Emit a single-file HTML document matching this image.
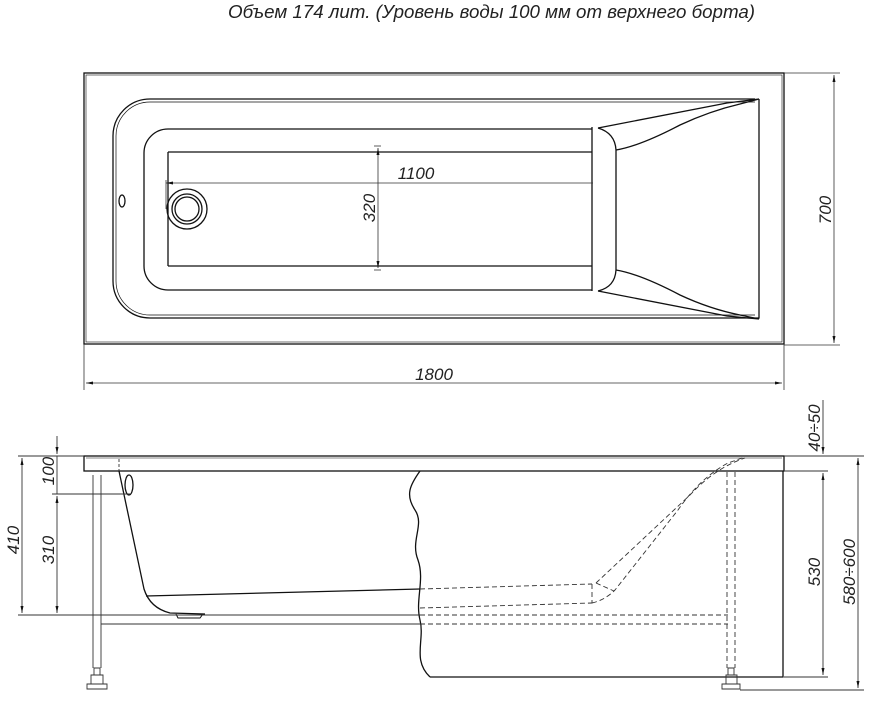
<!DOCTYPE html>
<html><head><meta charset="utf-8"><style>
html,body{margin:0;padding:0;background:#fff;width:869px;height:702px;overflow:hidden}
svg{display:block}
text{font-family:"Liberation Sans",sans-serif;font-style:italic;fill:#222}
</style></head><body>
<svg width="869" height="702" viewBox="0 0 869 702" xmlns="http://www.w3.org/2000/svg">
<defs>
<marker id="a" markerWidth="8" markerHeight="8" refX="7" refY="3" orient="auto" markerUnits="userSpaceOnUse"><path d="M0,1.5 L7,3 L0,4.5 Z" fill="#111"/></marker>
</defs>
<text x="228" y="18" font-size="18" textLength="527" lengthAdjust="spacingAndGlyphs">Объем 174 лит. (Уровень воды 100 мм от верхнего борта)</text>
<g fill="none" stroke="#111" stroke-width="1.3">
<rect x="84" y="73" width="700" height="271"/>
<rect x="86" y="75" width="696" height="267" stroke-width="0.6"/>
<path d="M755,99 H150 A37,37 0 0 0 113,136 V281 A37,37 0 0 0 150,318 H759 V99"/>
<path d="M755,102 H150 A34,34 0 0 0 116,136 V281 A34,34 0 0 0 150,315 H755" stroke-width="0.7"/>
<path d="M592,129 H168 A24,24 0 0 0 144,153 V266 A24,24 0 0 0 168,290 H592"/>
<path d="M592,127 V291"/>
<path d="M598,128 Q615,133 616,150 V270 Q615,287 598,291"/>
<path d="M598,128 L727,103 L759,99 M616,150 Q640,146 680,125 Q710,111 740,104 L759,99"/>
<path d="M598,291 L727,316 L759,319 M616,270 Q640,274 680,295 Q710,309 740,315 L759,319"/>
<path d="M168,152 H592 M168,266 H592 M168,152 V266"/>
<circle cx="187" cy="209" r="20"/><circle cx="187" cy="209" r="15"/><circle cx="187" cy="209" r="12"/>
<ellipse cx="122" cy="201" rx="3" ry="6"/>
</g>
<g fill="none" stroke="#333" stroke-width="0.8">
<line x1="593" y1="183" x2="166" y2="183" marker-end="url(#a)"/>
<line x1="166" y1="180" x2="166" y2="209"/>
<line x1="378" y1="210" x2="378" y2="148" marker-end="url(#a)"/>
<line x1="378" y1="210" x2="378" y2="268" marker-end="url(#a)"/>
<line x1="374" y1="146" x2="381" y2="146"/><line x1="374" y1="270" x2="381" y2="270"/>
<line x1="784" y1="73" x2="840" y2="73"/><line x1="784" y1="345" x2="840" y2="345"/>
<line x1="834" y1="210" x2="834" y2="75" marker-end="url(#a)"/>
<line x1="834" y1="210" x2="834" y2="343" marker-end="url(#a)"/>
<line x1="84" y1="344" x2="84" y2="390"/><line x1="784" y1="344" x2="784" y2="390"/>
<line x1="430" y1="383" x2="86" y2="383" marker-end="url(#a)"/>
<line x1="430" y1="383" x2="782" y2="383" marker-end="url(#a)"/>
</g>
<text x="416" y="179" font-size="17" text-anchor="middle">1100</text>
<text transform="translate(375,208) rotate(-90)" font-size="17" text-anchor="middle">320</text>
<text transform="translate(831,210) rotate(-90)" font-size="17" text-anchor="middle">700</text>
<text x="434" y="380" font-size="17" text-anchor="middle">1800</text>
<g fill="none" stroke="#111" stroke-width="1.3">
<rect x="84" y="456" width="700" height="15"/>
<line x1="86" y1="458" x2="782" y2="458" stroke-width="0.6"/>
<path d="M783,471 V677 H430"/>
<path d="M420,471 C410,485 405,495 415,510 C425,525 410,540 418,560 C425,580 415,600 420,620 C425,640 412,660 430,677"/>
<path d="M119,471 L144,589 Q150,608 170,613 L205,614"/>
<path d="M146,596 L420,589"/>
<path d="M176,614 L178,618 H200 L203,614" stroke-width="1"/>
<ellipse cx="129" cy="485" rx="4" ry="10"/>
</g>
<g fill="none" stroke="#333" stroke-width="0.9">
<line x1="119" y1="459" x2="119" y2="471" stroke-dasharray="3,2"/>
<line x1="93" y1="475" x2="93" y2="668"/><line x1="101" y1="475" x2="101" y2="668"/>
<path d="M94,668 H100 V675 H94 Z M91,675 H103 V684 H91 Z M87,684 H107 V689 H87 Z"/>
<line x1="101" y1="624" x2="420" y2="624"/>
<line x1="18" y1="615" x2="420" y2="615"/>
<g stroke-dasharray="5,3">
<line x1="420" y1="589" x2="592" y2="584"/>
<line x1="420" y1="608" x2="592" y2="603"/>
<line x1="420" y1="615" x2="728" y2="615"/>
<line x1="420" y1="624" x2="728" y2="624"/>
<line x1="592" y1="584" x2="592" y2="603"/>
<path d="M596,583 L690,495 Q715,468 745,458"/>
<path d="M592,603 Q605,600 615,590 L678,510 Q700,478 728,463 L745,457"/>
<line x1="596" y1="583" x2="614" y2="591"/>
<line x1="727" y1="472" x2="727" y2="668"/><line x1="735" y1="472" x2="735" y2="668"/>
</g>
<path d="M728,668 H734 V675 H728 Z M726,675 H737 V684 H726 Z M722,684 H740 V689 H722 Z"/>
<line x1="18" y1="456" x2="84" y2="456"/>
<line x1="52" y1="494" x2="130" y2="494"/>
<line x1="22" y1="530" x2="22" y2="458" marker-end="url(#a)"/>
<line x1="22" y1="530" x2="22" y2="613" marker-end="url(#a)"/>
<line x1="57" y1="436" x2="57" y2="454" marker-end="url(#a)"/>
<line x1="57" y1="456" x2="57" y2="494"/>
<line x1="57" y1="540" x2="57" y2="496" marker-end="url(#a)"/>
<line x1="57" y1="540" x2="57" y2="613" marker-end="url(#a)"/>
<line x1="784" y1="471" x2="828" y2="471"/>
<line x1="784" y1="677" x2="828" y2="677"/>
<line x1="784" y1="456" x2="864" y2="456"/>
<line x1="740" y1="690" x2="864" y2="690"/>
<line x1="823" y1="400" x2="823" y2="454" marker-end="url(#a)"/>
<line x1="823" y1="560" x2="823" y2="473" marker-end="url(#a)"/>
<line x1="823" y1="560" x2="823" y2="675" marker-end="url(#a)"/>
<line x1="858" y1="570" x2="858" y2="458" marker-end="url(#a)"/>
<line x1="858" y1="570" x2="858" y2="688" marker-end="url(#a)"/>
</g>
<text transform="translate(19,540) rotate(-90)" font-size="17" text-anchor="middle">410</text>
<text transform="translate(54,471) rotate(-90)" font-size="17" text-anchor="middle">100</text>
<text transform="translate(54,550) rotate(-90)" font-size="17" text-anchor="middle">310</text>
<text transform="translate(820,428) rotate(-90)" font-size="17" text-anchor="middle">40÷50</text>
<text transform="translate(820,572) rotate(-90)" font-size="17" text-anchor="middle">530</text>
<text transform="translate(855,572) rotate(-90)" font-size="17" text-anchor="middle">580÷600</text>
</svg>
</body></html>
